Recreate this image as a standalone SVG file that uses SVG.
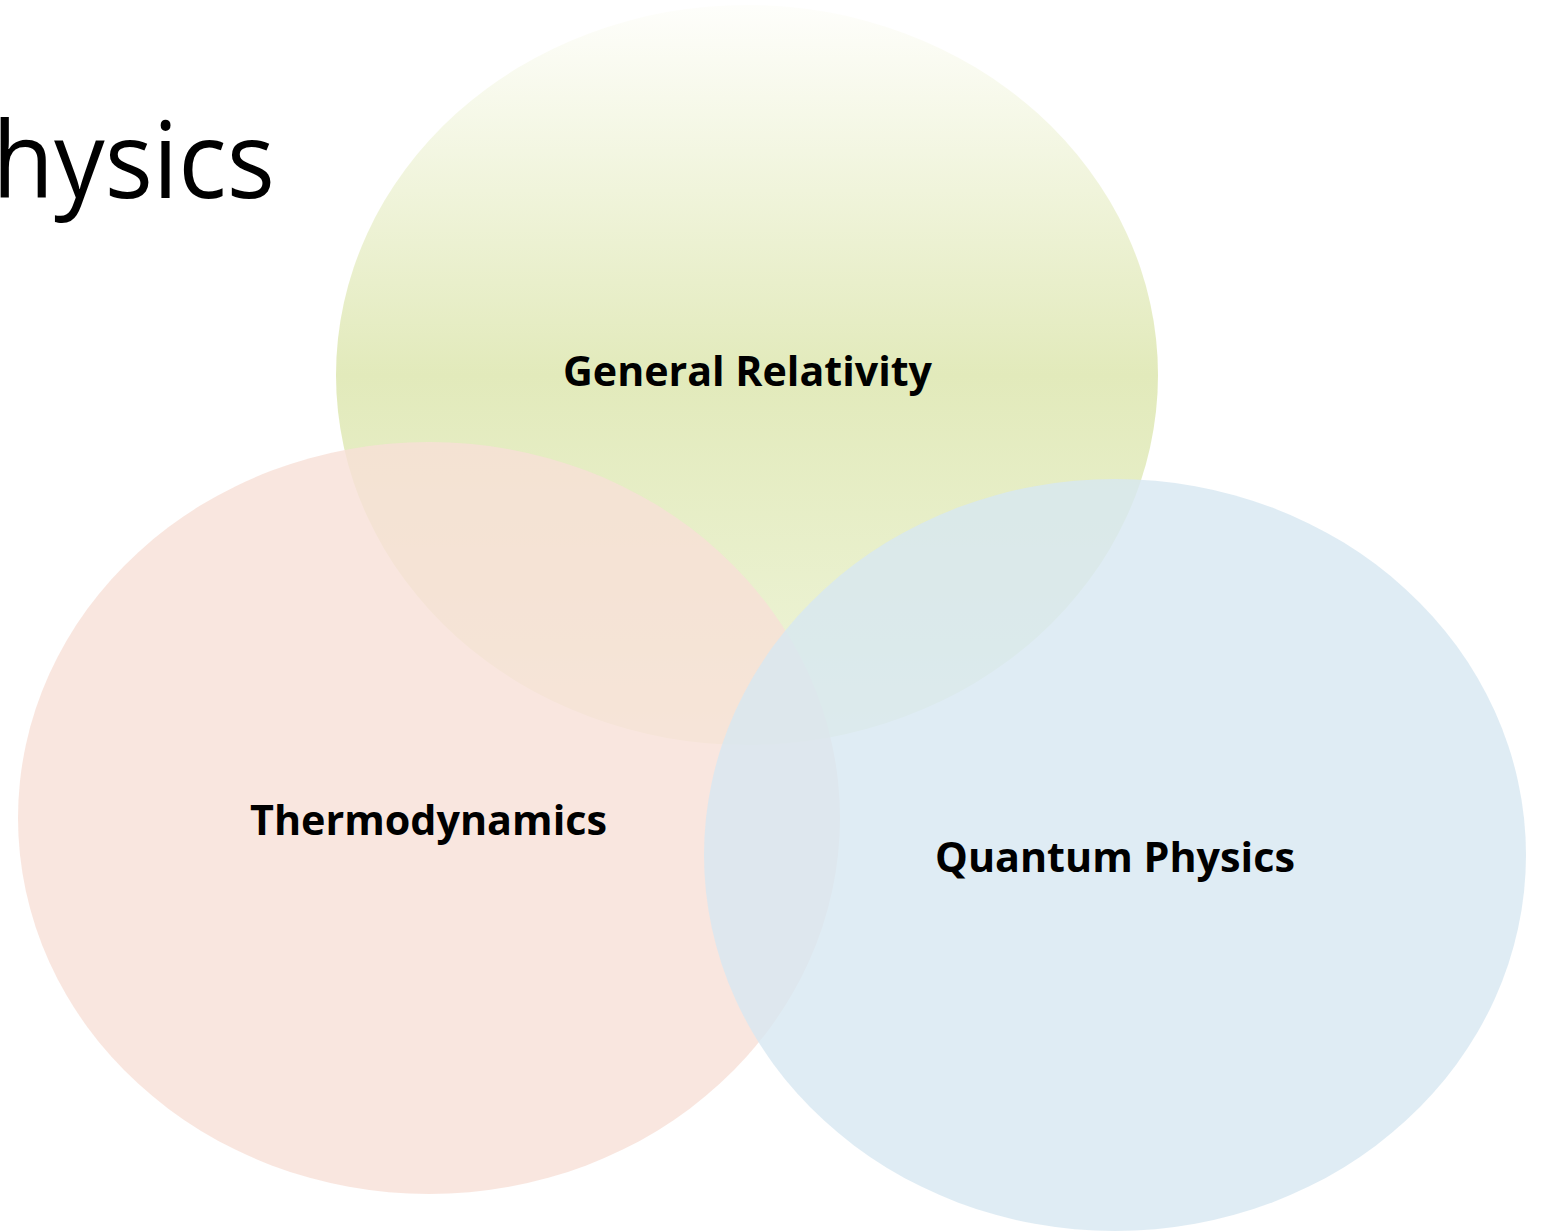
<svg xmlns="http://www.w3.org/2000/svg" width="1547" height="1232" viewBox="0 0 1547 1232">
<style>
.lbl{font-family:"Open Sans","Liberation Sans",sans-serif;font-weight:700;font-size:42px;fill:#000;text-anchor:middle}
.title{font-family:"Open Sans","Liberation Sans",sans-serif;font-size:106px;fill:#000}
</style>
<defs>
<linearGradient id="gGreen" x1="0" y1="0" x2="0" y2="1">
<stop offset="0" stop-color="#fefefb"/>
<stop offset="0.5" stop-color="#e2eabb"/>
<stop offset="1" stop-color="#eff5db"/>
</linearGradient>
</defs>
<rect width="1547" height="1232" fill="#ffffff"/>
<text class="title" x="-8" y="198" textLength="283" lengthAdjust="spacingAndGlyphs">hysics</text>
<g id="general-relativity">
<ellipse cx="747" cy="375" rx="411" ry="370" fill="url(#gGreen)"/>
<text class="lbl" x="747.5" y="386" textLength="369" lengthAdjust="spacingAndGlyphs">General Relativity</text>
</g>
<g id="thermodynamics">
<ellipse cx="429" cy="818" rx="411" ry="376" fill="#f8e0d7" fill-opacity="0.8"/>
<text class="lbl" x="428.5" y="835" textLength="357" lengthAdjust="spacingAndGlyphs">Thermodynamics</text>
</g>
<g id="quantum-physics">
<ellipse cx="1115" cy="855" rx="411" ry="376" fill="#d7e7f1" fill-opacity="0.8"/>
<text class="lbl" x="1115" y="872" textLength="360" lengthAdjust="spacingAndGlyphs">Quantum Physics</text>
</g>
<g id="connectors"/>
</svg>
